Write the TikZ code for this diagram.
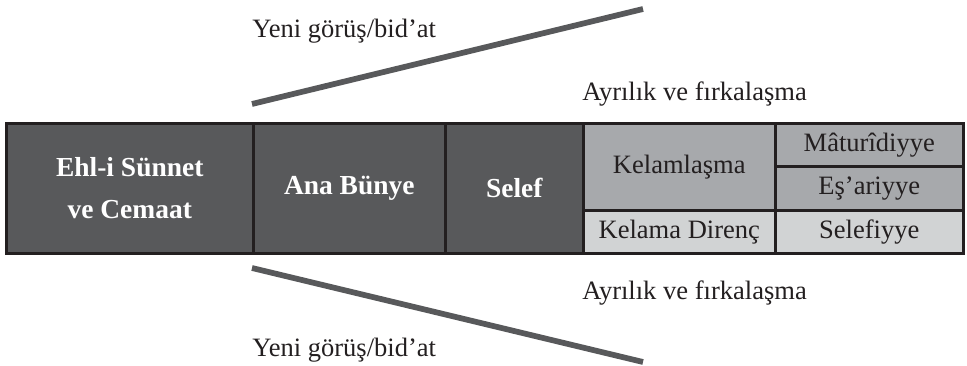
\documentclass[tikz,border=0pt]{standalone}
\usepackage{fontspec}
\setmainfont{Liberation Serif}
\usetikzlibrary{positioning}
\definecolor{cellDark}{HTML}{58595B}
\definecolor{cellMid}{HTML}{A7A9AC}
\definecolor{cellLight}{HTML}{D1D3D4}
\definecolor{edgeDark}{HTML}{231F20}
\begin{document}
\begin{tikzpicture}[x=0.75pt, y=-0.75pt,
    cell/.style={draw=edgeDark, line width=1.9pt, inner sep=0pt, anchor=north west,
        align=center, text=edgeDark, font=\fontsize{19.9}{24}\selectfont},
    darkcell/.style={cell, fill=cellDark, text=white, font=\fontsize{20.6}{32}\selectfont\bfseries},
    midcell/.style={cell, fill=cellMid},
    lightcell/.style={cell, fill=cellLight},
    branch/.style={draw=cellDark, line width=4.3pt},
    caption/.style={anchor=base west, inner sep=0pt, text=edgeDark, font=\fontsize{19.9}{24}\selectfont}]
    \useasboundingbox (0,0) rectangle (967,366);
    % Main strip
    \node[darkcell, minimum width=185.25pt, minimum height=97.5pt] (ehl) at (5,122) {Ehl-i Sünnet\\ve Cemaat};
    \node[darkcell, minimum width=144pt, minimum height=97.5pt] (ana) at (252,122) {Ana Bünye};
    \node[darkcell, minimum width=103.5pt, minimum height=97.5pt] (selef) at (444,122) {Selef};
    % Right block
    \node[midcell, minimum width=144pt, minimum height=65.25pt] (kelam) at (582,122) {Kelamlaşma};
    \node[lightcell, minimum width=144pt, minimum height=32.25pt] (direnc) at (582,209) {Kelama Direnç};
    \node[midcell, minimum width=141pt, minimum height=32.6pt] (matur) at (774,122) {Mâturîdiyye};
    \node[midcell, minimum width=141pt, minimum height=32.6pt] (esari) at (774,165.5) {Eş’ariyye};
    \node[lightcell, minimum width=141pt, minimum height=32.25pt] (selefiyye) at (774,209) {Selefiyye};
    % Branches
    \coordinate (upS) at (252,104);
    \coordinate (upE) at (643,9);
    \coordinate (downS) at (252,268);
    \coordinate (downE) at (643,362);
    \draw[branch] (upS) -- (upE);
    \draw[branch] (downS) -- (downE);
    % Captions
    \node[caption] (yeniUp) at (252,38) {Yeni görüş/bid’at};
    \node[caption] (ayrUp) at (582,101) {Ayrılık ve fırkalaşma};
    \node[caption] (ayrDown) at (582,300) {Ayrılık ve fırkalaşma};
    \node[caption] (yeniDown) at (252,357) {Yeni görüş/bid’at};
\end{tikzpicture}
\end{document}
